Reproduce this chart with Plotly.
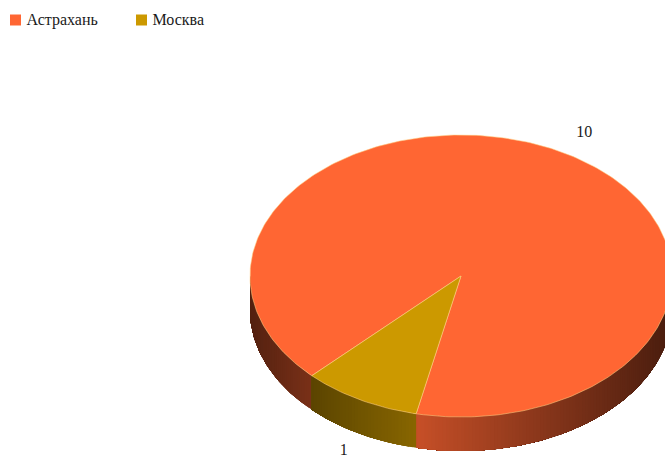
import math
import plotly.graph_objects as go

# Slice data
categories = ["Астрахань", "Москва"]
values = [10, 1]
colors = ["#FF6633", "#CC9900"]
start_angle = 225.0  # degrees clockwise from twelve o'clock

# Pie geometry, in page pixels
WIDTH, HEIGHT = 665, 457
CX, CY, RX, RY, DEPTH = 461.0, 276.0, 211.0, 141.0, 34.0
KEY_X = [15.5, 141.5]
KEY_Y = 20
TEXT_FONT = dict(family="Liberation Serif", size=16, color="#1a1a1a")


def rim(angle):
    rad = math.radians(angle)
    return CX + RX * math.sin(rad), CY - RY * math.cos(rad)


def arc(a0, a1, step=1.0):
    n = max(2, int(abs(a1 - a0) / step) + 1)
    return [rim(a0 + (a1 - a0) * i / (n - 1)) for i in range(n)]


def shade(hex_color, factor):
    r, g, b = (int(hex_color[i:i + 2], 16) for i in (1, 3, 5))
    return f"rgb({int(r * factor)},{int(g * factor)},{int(b * factor)})"


def side_factor(index, x):
    # Wall brightness ramps: dark at the outer edges, brightest just left of centre
    if index == 1:
        return 0.45 + (x - 312) / 105 * 0.22
    if x < 340:
        return 0.33 + (x - 250) / 62 * 0.15
    return max(0.3, 0.78 - (x - 417) / 248 * 0.48)


def visible_wall(a0, a1):
    # Front half of the rim only: 90..270 degrees, in any full turn
    turn = math.floor(a0 / 360) * 360
    spans = []
    for lo, hi in ((turn + 90, turn + 270), (turn + 450, turn + 630)):
        s, e = max(a0, lo), min(a1, hi)
        if s < e:
            spans.append((s, e))
    return spans


fig = go.Figure()

# Work out each slice's sweep from its value
total = sum(values)
sweeps = []
angle = start_angle
for v in values:
    sweeps.append((angle, angle + 360.0 * v / total))
    angle += 360.0 * v / total

# Outer walls: each strip runs to the end of the span and the next one paints
# over it, which keeps the shading free of seams
for i, (a0, a1) in enumerate(sweeps):
    for s, e in visible_wall(a0, a1):
        a = s
        while a < e:
            top = arc(a, e)
            bottom = [(x, y + DEPTH) for x, y in reversed(top)]
            ring = top + bottom + [top[0]]
            x_here = rim(a + 0.5)[0]
            fill = shade(colors[i], side_factor(i, x_here))
            fig.add_trace(go.Scatter(
                x=[p[0] for p in ring], y=[p[1] for p in ring],
                mode="lines", fill="toself", fillcolor=fill,
                line=dict(width=0),
                hoverinfo="skip", showlegend=False,
            ))
            a += 1.0

# Top faces
for i, (a0, a1) in enumerate(sweeps):
    pts = [(CX, CY)] + arc(a0, a1) + [(CX, CY)]
    fig.add_trace(go.Scatter(
        x=[p[0] for p in pts], y=[p[1] for p in pts],
        mode="lines", fill="toself", fillcolor=colors[i],
        line=dict(color="rgba(255,205,130,0.55)", width=1),
        hoverinfo="skip", showlegend=False,
    ))

# Value labels placed beyond the rim at each slice's mid-angle
for v, (a0, a1) in zip(values, sweeps):
    mid = math.radians((a0 + a1) / 2)
    lower = math.cos(mid) < 0
    fig.add_trace(go.Scatter(
        x=[CX + 3 + 1.19 * RX * math.sin(mid)],
        y=[CY + 1 - 1.16 * RY * math.cos(mid) + (DEPTH - 4 if lower else 0)],
        mode="text", text=[str(v)], textposition="middle center",
        textfont=TEXT_FONT,
        hoverinfo="skip", showlegend=False, cliponaxis=False,
    ))

# Key above the pie: a square swatch followed by the category name
for name, color, kx in zip(categories, colors, KEY_X):
    fig.add_trace(go.Scatter(
        x=[kx], y=[KEY_Y], mode="markers", name=name,
        marker=dict(symbol="square", size=11, color=color),
        hoverinfo="skip", showlegend=False,
    ))
    fig.add_trace(go.Scatter(
        x=[kx + 11], y=[KEY_Y + 1], mode="text", text=[name],
        textposition="middle right", textfont=TEXT_FONT,
        hoverinfo="skip", showlegend=False,
    ))

fig.update_layout(
    width=WIDTH, height=HEIGHT,
    margin=dict(l=0, r=0, t=0, b=0),
    paper_bgcolor="white", plot_bgcolor="white",
    xaxis=dict(range=[0, WIDTH], visible=False, fixedrange=True),
    yaxis=dict(range=[HEIGHT, 0], visible=False, fixedrange=True),
    hovermode=False,
    showlegend=False,
)

fig.write_html("out.html", config=dict(displayModeBar=False))
